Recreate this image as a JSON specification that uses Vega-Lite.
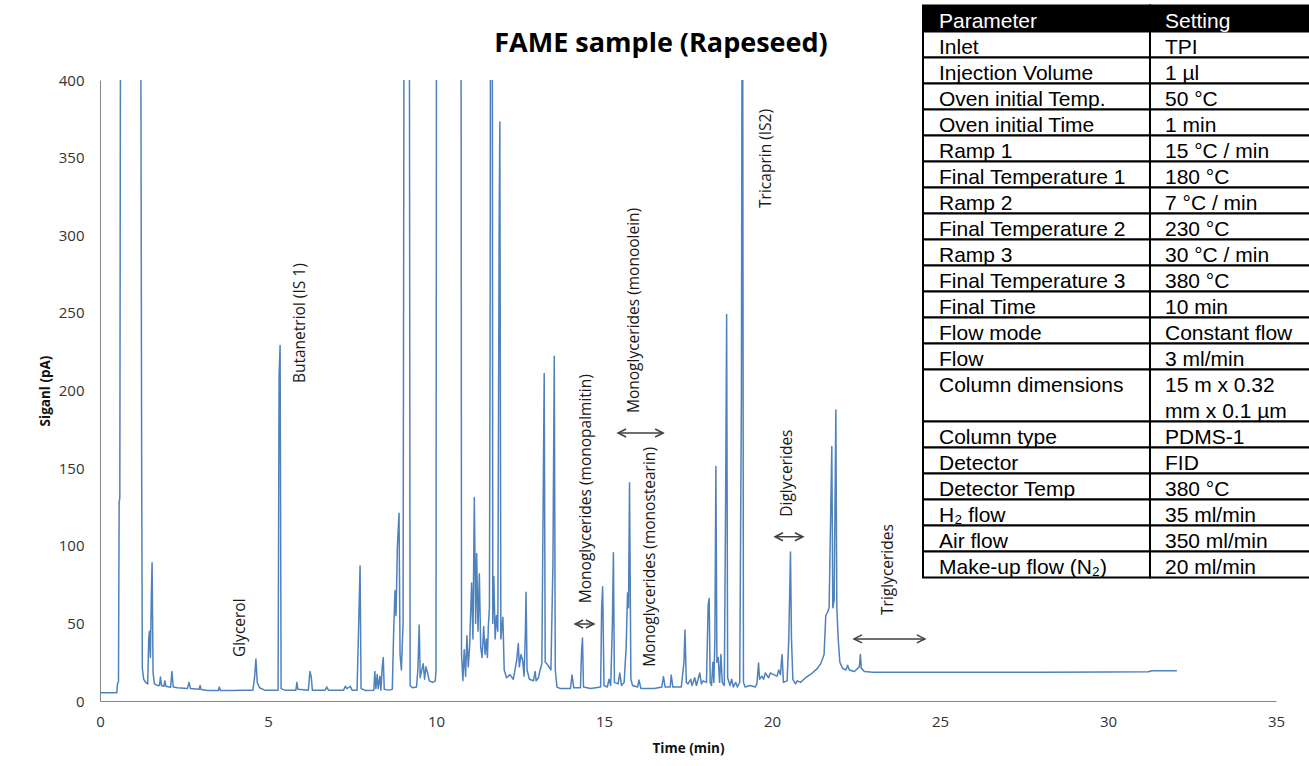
{
  "$schema": "https://vega.github.io/schema/vega-lite/v6.json",
  "width": 1176,
  "height": 621,
  "autosize": {"type": "none"},
  "padding": {"left": 100, "top": 80, "right": 33, "bottom": 65},
  "background": "white",
  "title": {"text": "FAME sample (Rapeseed)", "font": "Open Sans", "fontSize": 27, "fontWeight": "bold", "color": "#000000", "anchor": "middle", "frame": "group", "baseline": "alphabetic", "dx": -27, "offset": 0, "dy": 74.5},
  "config": {"view": {"stroke": null}},
  "datasets": {
    "signal": [
      {"t":0,"s":5.3},{"t":0.5,"s":5.3},{"t":0.52,"s":11},{"t":0.55,"s":12.5},{"t":0.57,"s":128},{"t":0.59,"s":131},{"t":0.62,"s":600},{"t":1.2,"s":600},{"t":1.24,"s":150},{"t":1.26,"s":21},{"t":1.3,"s":14},{"t":1.36,"s":12},{"t":1.42,"s":11},{"t":1.45,"s":40},{"t":1.47,"s":45},{"t":1.5,"s":28},{"t":1.53,"s":70},{"t":1.55,"s":89},{"t":1.58,"s":18},{"t":1.62,"s":11},{"t":1.7,"s":10},{"t":1.77,"s":10},{"t":1.8,"s":15.5},{"t":1.83,"s":10},{"t":1.9,"s":9.5},{"t":1.93,"s":13},{"t":1.96,"s":9.5},{"t":2.1,"s":8.8},{"t":2.14,"s":19},{"t":2.18,"s":9},{"t":2.3,"s":8.6},{"t":2.6,"s":8},{"t":2.65,"s":12},{"t":2.69,"s":8},{"t":2.95,"s":7.6},{"t":2.98,"s":10},{"t":3.01,"s":7.4},{"t":3.2,"s":6.8},{"t":3.52,"s":6.8},{"t":3.55,"s":9},{"t":3.58,"s":6.8},{"t":3.9,"s":6.8},{"t":4.3,"s":6.9},{"t":4.55,"s":7},{"t":4.6,"s":15},{"t":4.64,"s":27},{"t":4.68,"s":12},{"t":4.75,"s":8.5},{"t":4.9,"s":7},{"t":5.3,"s":7},{"t":5.33,"s":210},{"t":5.36,"s":229},{"t":5.39,"s":8},{"t":5.5,"s":7},{"t":5.83,"s":7},{"t":5.86,"s":12},{"t":5.89,"s":7.5},{"t":6.2,"s":7},{"t":6.25,"s":19},{"t":6.29,"s":15},{"t":6.32,"s":7},{"t":6.7,"s":7},{"t":6.75,"s":9},{"t":6.8,"s":7},{"t":7.25,"s":7},{"t":7.3,"s":9.5},{"t":7.35,"s":8},{"t":7.45,"s":9.5},{"t":7.5,"s":7},{"t":7.65,"s":7},{"t":7.7,"s":50},{"t":7.74,"s":87},{"t":7.77,"s":8},{"t":7.9,"s":6.8},{"t":8.15,"s":7},{"t":8.18,"s":19},{"t":8.21,"s":8},{"t":8.25,"s":17},{"t":8.28,"s":8},{"t":8.33,"s":16},{"t":8.36,"s":7},{"t":8.4,"s":22},{"t":8.43,"s":28},{"t":8.46,"s":7.5},{"t":8.6,"s":7},{"t":8.7,"s":7.5},{"t":8.74,"s":45},{"t":8.78,"s":71},{"t":8.81,"s":55},{"t":8.85,"s":99},{"t":8.9,"s":121},{"t":8.93,"s":30},{"t":8.97,"s":20},{"t":9.02,"s":50},{"t":9.06,"s":600},{"t":9.2,"s":600},{"t":9.23,"s":10},{"t":9.3,"s":8.5},{"t":9.42,"s":9},{"t":9.46,"s":20},{"t":9.5,"s":49},{"t":9.53,"s":15},{"t":9.58,"s":20},{"t":9.62,"s":24},{"t":9.66,"s":14},{"t":9.7,"s":22},{"t":9.75,"s":18},{"t":9.8,"s":13},{"t":9.9,"s":12},{"t":9.98,"s":13},{"t":10.0,"s":20},{"t":10.02,"s":600},{"t":10.74,"s":600},{"t":10.76,"s":30},{"t":10.8,"s":13},{"t":10.84,"s":33},{"t":10.88,"s":16},{"t":10.92,"s":42},{"t":10.96,"s":22},{"t":11.0,"s":35},{"t":11.06,"s":76},{"t":11.1,"s":40},{"t":11.14,"s":131},{"t":11.18,"s":50},{"t":11.21,"s":95},{"t":11.25,"s":45},{"t":11.29,"s":82},{"t":11.33,"s":35},{"t":11.37,"s":28},{"t":11.42,"s":48},{"t":11.46,"s":30},{"t":11.5,"s":40},{"t":11.53,"s":28},{"t":11.56,"s":49},{"t":11.59,"s":60},{"t":11.61,"s":232},{"t":11.63,"s":600},{"t":11.67,"s":600},{"t":11.69,"s":50},{"t":11.72,"s":80},{"t":11.76,"s":40},{"t":11.8,"s":55},{"t":11.84,"s":45},{"t":11.88,"s":310},{"t":11.9,"s":373},{"t":11.93,"s":40},{"t":11.99,"s":54},{"t":12.03,"s":20},{"t":12.1,"s":15},{"t":12.2,"s":17},{"t":12.3,"s":14},{"t":12.4,"s":26},{"t":12.45,"s":37},{"t":12.48,"s":22},{"t":12.53,"s":30},{"t":12.58,"s":26},{"t":12.62,"s":16},{"t":12.66,"s":44},{"t":12.68,"s":70},{"t":12.71,"s":20},{"t":12.78,"s":14},{"t":12.9,"s":13},{"t":12.95,"s":19},{"t":12.98,"s":13},{"t":13.05,"s":15},{"t":13.1,"s":20},{"t":13.15,"s":24},{"t":13.19,"s":129},{"t":13.22,"s":211},{"t":13.25,"s":25},{"t":13.3,"s":24},{"t":13.42,"s":20},{"t":13.48,"s":88},{"t":13.52,"s":222},{"t":13.55,"s":20},{"t":13.6,"s":9},{"t":13.7,"s":8},{"t":14.0,"s":8},{"t":14.05,"s":16.7},{"t":14.1,"s":8.5},{"t":14.3,"s":8.5},{"t":14.33,"s":31},{"t":14.36,"s":40.6},{"t":14.39,"s":9},{"t":14.6,"s":8},{"t":14.9,"s":9},{"t":14.93,"s":60},{"t":14.96,"s":73.6},{"t":15.0,"s":10},{"t":15.1,"s":9},{"t":15.15,"s":14},{"t":15.2,"s":10},{"t":15.25,"s":50},{"t":15.28,"s":95.5},{"t":15.31,"s":12},{"t":15.42,"s":11},{"t":15.47,"s":18},{"t":15.52,"s":10},{"t":15.6,"s":12},{"t":15.66,"s":35},{"t":15.7,"s":69.6},{"t":15.73,"s":60},{"t":15.76,"s":140.6},{"t":15.8,"s":14},{"t":15.85,"s":10},{"t":16.0,"s":9},{"t":16.04,"s":13.5},{"t":16.1,"s":8},{"t":16.5,"s":8},{"t":16.72,"s":9},{"t":16.77,"s":15.7},{"t":16.82,"s":9},{"t":16.97,"s":9},{"t":17.0,"s":16.7},{"t":17.05,"s":9},{"t":17.3,"s":9},{"t":17.38,"s":25},{"t":17.41,"s":45.7},{"t":17.45,"s":12},{"t":17.5,"s":11},{"t":17.58,"s":14},{"t":17.62,"s":10},{"t":17.7,"s":15},{"t":17.75,"s":10},{"t":17.85,"s":18},{"t":17.9,"s":11},{"t":17.95,"s":13},{"t":18.05,"s":12},{"t":18.1,"s":62},{"t":18.13,"s":66},{"t":18.16,"s":12},{"t":18.2,"s":10},{"t":18.24,"s":25},{"t":18.27,"s":12},{"t":18.3,"s":40},{"t":18.33,"s":151},{"t":18.36,"s":25},{"t":18.4,"s":28},{"t":18.44,"s":12},{"t":18.48,"s":30},{"t":18.52,"s":12},{"t":18.58,"s":10},{"t":18.62,"s":130},{"t":18.65,"s":249},{"t":18.68,"s":15},{"t":18.75,"s":10},{"t":18.8,"s":14},{"t":18.85,"s":9},{"t":18.92,"s":12},{"t":18.97,"s":9},{"t":19.04,"s":12},{"t":19.09,"s":200},{"t":19.12,"s":600},{"t":19.15,"s":12},{"t":19.2,"s":9},{"t":19.35,"s":10},{"t":19.5,"s":9},{"t":19.55,"s":11},{"t":19.6,"s":24.5},{"t":19.63,"s":14},{"t":19.7,"s":16},{"t":19.75,"s":14},{"t":19.8,"s":18},{"t":19.9,"s":15},{"t":19.95,"s":18},{"t":20.05,"s":17},{"t":20.15,"s":16},{"t":20.2,"s":20},{"t":20.25,"s":17},{"t":20.3,"s":30},{"t":20.34,"s":12},{"t":20.45,"s":13},{"t":20.5,"s":40},{"t":20.55,"s":96},{"t":20.58,"s":40},{"t":20.62,"s":14},{"t":20.7,"s":11},{"t":20.75,"s":13},{"t":20.85,"s":12},{"t":21.0,"s":15},{"t":21.2,"s":18},{"t":21.35,"s":21},{"t":21.45,"s":24},{"t":21.55,"s":30},{"t":21.6,"s":55},{"t":21.65,"s":57},{"t":21.7,"s":60},{"t":21.78,"s":164},{"t":21.81,"s":60},{"t":21.85,"s":65},{"t":21.9,"s":187.5},{"t":21.93,"s":60},{"t":21.97,"s":40},{"t":22.02,"s":25},{"t":22.1,"s":21},{"t":22.2,"s":20},{"t":22.25,"s":23},{"t":22.3,"s":20},{"t":22.45,"s":19},{"t":22.6,"s":22},{"t":22.63,"s":30},{"t":22.66,"s":21},{"t":22.75,"s":19},{"t":23.0,"s":18.5},{"t":25.0,"s":18.5},{"t":28.0,"s":18.5},{"t":30.0,"s":18.6},{"t":31.2,"s":18.8},{"t":31.3,"s":19.5},{"t":32.05,"s":19.5}
    ],
    "labels": [
      {"label":"Glycerol","t":4.18,"s":28.3},
      {"label":"Butanetriol (IS 1)","t":5.95,"s":204.8},
      {"label":"Monoglycerides (monopalmitin)","t":14.45,"s":63},
      {"label":"Monoglycerides (monoolein)","t":15.88,"s":185.5},
      {"label":"Monoglycerides (monostearin)","t":16.37,"s":22},
      {"label":"Tricaprin (IS2)","t":19.82,"s":317.6},
      {"label":"Diglycerides","t":20.44,"s":118.7},
      {"label":"Triglycerides","t":23.45,"s":55.4}
    ],
    "arrows": [
      {"t1":14.14,"t2":14.7,"s":49.6},
      {"t1":15.42,"t2":16.76,"s":172.6},
      {"t1":20.09,"t2":20.92,"s":105.8},
      {"t1":22.44,"t2":24.55,"s":40}
    ],
    "table": [
      {"kind":"head","param":"Parameter","setting":"Setting","top":0,"bottom":1},
      {"kind":"body","param":"Inlet","setting":"TPI","top":1,"bottom":2},
      {"kind":"body","param":"Injection Volume","setting":"1 µl","top":2,"bottom":3},
      {"kind":"body","param":"Oven initial Temp.","setting":"50 °C","top":3,"bottom":4},
      {"kind":"body","param":"Oven initial Time","setting":"1 min","top":4,"bottom":5},
      {"kind":"body","param":"Ramp 1","setting":"15 °C / min","top":5,"bottom":6},
      {"kind":"body","param":"Final Temperature 1","setting":"180 °C","top":6,"bottom":7},
      {"kind":"body","param":"Ramp 2","setting":"7 °C / min","top":7,"bottom":8},
      {"kind":"body","param":"Final Temperature 2","setting":"230 °C","top":8,"bottom":9},
      {"kind":"body","param":"Ramp 3","setting":"30 °C / min","top":9,"bottom":10},
      {"kind":"body","param":"Final Temperature 3","setting":"380 °C","top":10,"bottom":11},
      {"kind":"body","param":"Final Time","setting":"10 min","top":11,"bottom":12},
      {"kind":"body","param":"Flow mode","setting":"Constant flow","top":12,"bottom":13},
      {"kind":"body","param":"Flow","setting":"3 ml/min","top":13,"bottom":14},
      {"kind":"body","param":"Column dimensions","setting":"15 m x 0.32\nmm x 0.1 µm","top":14,"bottom":16},
      {"kind":"body","param":"Column type","setting":"PDMS-1","top":16,"bottom":17},
      {"kind":"body","param":"Detector","setting":"FID","top":17,"bottom":18},
      {"kind":"body","param":"Detector Temp","setting":"380 °C","top":18,"bottom":19},
      {"kind":"body","param":"H₂ flow","setting":"35 ml/min","top":19,"bottom":20},
      {"kind":"body","param":"Air flow","setting":"350 ml/min","top":20,"bottom":21},
      {"kind":"body","param":"Make-up flow (N₂)","setting":"20 ml/min","top":21,"bottom":22}
    ]
  },
  "layer": [
    {
      "layer": [
        {
          "data": {"name": "signal"},
          "mark": {"type": "line", "clip": true, "color": "#4F81BD", "strokeWidth": 1.5, "strokeJoin": "round"},
          "encoding": {
            "x": {"field": "t", "type": "quantitative", "title": "Time (min)",
              "scale": {"domain": [0, 35], "nice": false, "zero": false},
              "axis": {"values": [0,5,10,15,20,25,30,35], "ticks": false, "grid": false, "domainColor": "#868686", "domainWidth": 1,
                "labelFont": "Open Sans", "labelFontSize": 15, "labelColor": "#333333", "labelPadding": 13, "labelFlush": false, "labelOverlap": false,
                "titleFont": "Open Sans", "titleFontSize": 13.5, "titleFontWeight": "bold", "titleColor": "#111111", "titlePadding": 12}},
            "y": {"field": "s", "type": "quantitative", "title": "Siganl (pA)",
              "scale": {"domain": [0, 400], "nice": false, "zero": false},
              "axis": {"values": [0,50,100,150,200,250,300,350,400], "ticks": false, "grid": false, "domainColor": "#868686", "domainWidth": 1,
                "labelFont": "Open Sans", "labelFontSize": 15, "labelColor": "#333333", "labelPadding": 16, "labelFlush": false, "labelOverlap": false,
                "titleFont": "Open Sans", "titleFontSize": 13.5, "titleFontWeight": "bold", "titleColor": "#111111", "titlePadding": 6}}
          }
        },
        {
          "data": {"name": "arrows"},
          "mark": {"type": "rule", "color": "#404040", "strokeWidth": 1.5},
          "encoding": {
            "x": {"field": "t1", "type": "quantitative", "title": "Time (min)", "scale": {"domain": [0, 35], "nice": false, "zero": false}},
            "x2": {"field": "t2"},
            "y": {"field": "s", "type": "quantitative", "title": "Siganl (pA)", "scale": {"domain": [0, 400], "nice": false, "zero": false}}
          }
        },
        {
          "data": {"name": "arrows"},
          "transform": [{"fold": ["t1", "t2"], "as": ["end", "t"]}],
          "mark": {"type": "point", "filled": false, "opacity": 1, "stroke": "#404040", "strokeWidth": 1.5, "size": 64, "strokeJoin": "miter"},
          "encoding": {
            "x": {"field": "t", "type": "quantitative", "title": "Time (min)", "scale": {"domain": [0, 35], "nice": false, "zero": false}},
            "y": {"field": "s", "type": "quantitative", "title": "Siganl (pA)", "scale": {"domain": [0, 400], "nice": false, "zero": false}},
            "shape": {"field": "end", "type": "nominal", "legend": null,
              "scale": {"domain": ["t1", "t2"], "range": ["M2,-1L0,0L2,1", "M-2,-1L0,0L-2,1"]}}
          }
        },
        {
          "data": {"name": "labels"},
          "mark": {"type": "text", "angle": 270, "align": "left", "baseline": "middle", "font": "Open Sans", "fontSize": 15.5, "color": "#1a1a1a"},
          "encoding": {
            "x": {"field": "t", "type": "quantitative", "title": "Time (min)", "scale": {"domain": [0, 35], "nice": false, "zero": false}},
            "y": {"field": "s", "type": "quantitative", "title": "Siganl (pA)", "scale": {"domain": [0, 400], "nice": false, "zero": false}},
            "text": {"field": "label", "type": "nominal"}
          }
        }
      ]
    },
    {
      "data": {"name": "table"},
      "layer": [
        {
          "mark": {"type": "rect", "stroke": "#000000", "strokeWidth": 2},
          "encoding": {
            "x": {"datum": 0, "type": "quantitative", "scale": {"domain": [-3.6256, 1.5551], "nice": false, "zero": false}, "axis": null},
            "x2": {"datum": 1},
            "y": {"field": "top", "type": "quantitative", "scale": {"domain": [2.8654, 26.75], "reverse": true, "nice": false, "zero": false}, "axis": null},
            "y2": {"field": "bottom"},
            "fill": {"field": "kind", "type": "nominal", "legend": null, "scale": {"domain": ["head", "body"], "range": ["#000000", "#ffffff"]}}
          }
        },
        {
          "mark": {"type": "rect", "stroke": "#000000", "strokeWidth": 2},
          "encoding": {
            "x": {"datum": 1, "type": "quantitative"},
            "x2": {"datum": 2},
            "y": {"field": "top", "type": "quantitative"},
            "y2": {"field": "bottom"},
            "fill": {"field": "kind", "type": "nominal", "legend": null}
          }
        },
        {
          "mark": {"type": "text", "align": "left", "baseline": "top", "dx": 16, "dy": 6, "font": "Liberation Sans", "fontSize": 21, "lineBreak": "\n", "lineHeight": 26},
          "encoding": {
            "x": {"datum": 0, "type": "quantitative"},
            "y": {"field": "top", "type": "quantitative"},
            "text": {"field": "param", "type": "nominal"},
            "color": {"field": "kind", "type": "nominal", "legend": null, "scale": {"domain": ["head", "body"], "range": ["#ffffff", "#000000"]}}
          }
        },
        {
          "mark": {"type": "text", "align": "left", "baseline": "top", "dx": 15, "dy": 6, "font": "Liberation Sans", "fontSize": 21, "lineBreak": "\n", "lineHeight": 26},
          "encoding": {
            "x": {"datum": 1, "type": "quantitative"},
            "y": {"field": "top", "type": "quantitative"},
            "text": {"field": "setting", "type": "nominal"},
            "color": {"field": "kind", "type": "nominal", "legend": null}
          }
        }
      ]
    }
  ],
  "resolve": {"scale": {"x": "independent", "y": "independent"}}
}
